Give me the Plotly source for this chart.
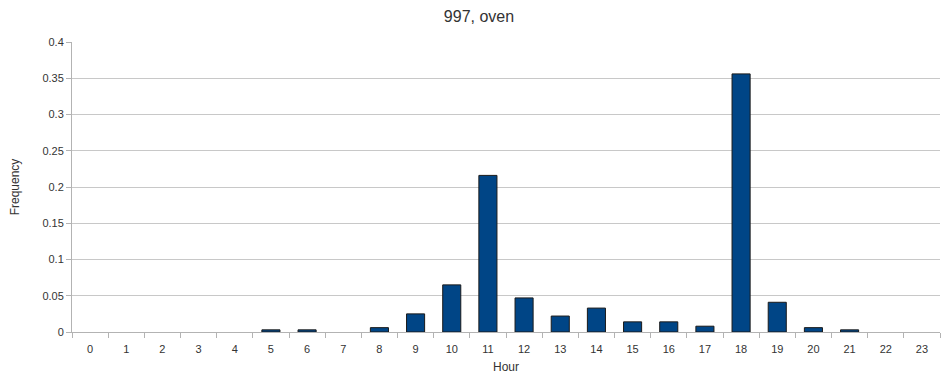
import plotly.graph_objects as go

hours = [str(h) for h in range(24)]
freq = [None, None, None, None, None, 0.003, 0.003, None, 0.006, 0.025, 0.065, 0.216,
        0.047, 0.022, 0.033, 0.014, 0.014, 0.008, 0.356, 0.041, 0.006, 0.003, None, None]
y_ticks = [0, 0.05, 0.1, 0.15, 0.2, 0.25, 0.3, 0.35, 0.4]

fig = go.Figure()
fig.add_trace(go.Bar(x=hours, y=freq, marker=dict(color='#004586', line=dict(color='#1a1a1a', width=1))))

fig.update_xaxes(title=dict(text="Hour", font=dict(size=12, color='#333333'), standoff=8),
                 type='category', ticks='outside', tickson='boundaries', ticklen=5,
                 tickcolor='#b3b3b3', showline=True, linecolor='#b3b3b3', automargin=False,
                 ticklabelstandoff=7,
                 tickfont=dict(size=11, color='#333333'), showgrid=False)
fig.update_yaxes(title=dict(text="Frequency", font=dict(size=12, color='#333333'), standoff=29),
                 range=[0, 0.4], tickvals=y_ticks, ticktext=[f"{v:g}" for v in y_ticks],
                 ticks='outside', ticklen=5, tickcolor='#b3b3b3', showline=True, linecolor='#b3b3b3',
                 automargin=False,
                 gridcolor='#c8c8c8', zeroline=False, tickfont=dict(size=11, color='#333333'))

# page body has an 8px margin, so the figure is sized/offset to fit the 950x377 window
fig.update_layout(title=dict(text="997, oven", x=0.5, xanchor='center', y=1, yanchor='top',
                             pad=dict(t=3), font=dict(size=16, color='#333333')),
                  font=dict(family="Liberation Sans, Arial, sans-serif"),
                  width=942, height=369, bargap=0.5, showlegend=False,
                  plot_bgcolor='white', paper_bgcolor='white',
                  margin=dict(l=64, r=10, t=34, b=45))

fig.write_html("out.html")
